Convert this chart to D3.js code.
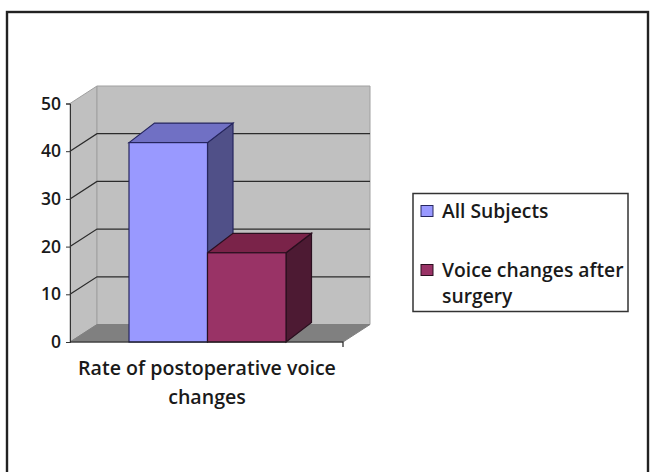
<!DOCTYPE html>
<html><head><meta charset="utf-8">
<script src="https://cdn.jsdelivr.net/npm/d3@7"></script>
<style>html,body{margin:0;padding:0;background:#fff}svg{display:block}text{font-family:"Open Sans",sans-serif;fill:#1a1a1a;font-weight:600}</style>
</head><body><svg id="c" width="654" height="472"></svg>
<script>
const categories = ["All Subjects", "Voice changes after surgery"];
const values = [41.8, 18.7];
const yTicks = [0, 10, 20, 30, 40, 50];
const xTitleLines = ["Rate of postoperative voice", "changes"];
const legendLines = [["All Subjects"], ["Voice changes after", "surgery"]];
const frontCol = ["#9999ff", "#993366"], topCol = ["#7070c4", "#7a2349"], sideCol = ["#505088", "#4d1a33"];

const svg = d3.select("#c");
svg.append("rect").attr("x",7).attr("y",12).attr("width",641).attr("height",470).attr("fill","#fff").attr("stroke","#222").attr("stroke-width",2.4);

const y = d3.scaleLinear().domain([0,50]).range([342,103.5]);
const x = d3.scaleBand().domain(categories).range([129,286]).paddingInner(0);
const xl = 70, xr = 343, wdx = 27, wdy = 17.5, bdx = 25.5, bdy = 19.5;
const poly = (pts,f,s,sw=1)=>svg.append("polygon").attr("points",pts.map(p=>p.join(",")).join(" ")).attr("fill",f).attr("stroke",s).attr("stroke-width",sw);

// walls and floor
poly([[xl,y(0)],[xl+wdx,y(0)-wdy],[xl+wdx,y(50)-wdy],[xl,y(50)]],"#c0c0c0","#a0a0a0");
poly([[xl+wdx,y(0)-wdy],[xr+wdx,y(0)-wdy],[xr+wdx,y(50)-wdy],[xl+wdx,y(50)-wdy]],"#c0c0c0","#a0a0a0");
poly([[xl,y(0)],[xl+wdx,y(0)-wdy],[xr+wdx,y(0)-wdy],[xr,y(0)]],"#808080","#808080");

// gridlines
const gridT = yTicks.filter(t=>t>0&&t<50);
svg.selectAll(".g").data(gridT).enter().append("path").attr("fill","none").attr("stroke","#2b2b2b").attr("stroke-width",1.2)
  .attr("d",t=>`M${xl},${y(t)}L${xl+wdx},${y(t)-wdy}L${xr+wdx},${y(t)-wdy}`);

// bars
categories.forEach((c,i)=>{
  const x0=x(c), x1=x0+x.bandwidth(), yt=y(values[i]), yb=y(0);
  const stroke=i?"#2a0f1f":"#26265e";
  poly([[x1,yt],[x1+bdx,yt-bdy],[x1+bdx,yb-bdy],[x1,yb]],sideCol[i],stroke,1.2);
  poly([[x0,yt],[x0+bdx,yt-bdy],[x1+bdx,yt-bdy],[x1,yt]],topCol[i],stroke,1.2);
});
categories.forEach((c,i)=>{
  const stroke=i?"#2a0f1f":"#26265e";
  svg.append("rect").attr("x",x(c)).attr("y",y(values[i])).attr("width",x.bandwidth()).attr("height",y(0)-y(values[i])).attr("fill",frontCol[i]).attr("stroke",stroke).attr("stroke-width",1.2);
});

// axes
const yAxis = d3.axisLeft(y).tickValues(yTicks).tickSize(4).tickPadding(5);
const ga = svg.append("g").attr("transform",`translate(${xl},0)`).call(yAxis);
ga.select(".domain").attr("stroke","#333");
ga.selectAll("line").attr("stroke","#333");
ga.selectAll("text").attr("font-size",17.5).style("font-family",'"Open Sans",sans-serif').style("fill","#1a1a1a");
svg.append("path").attr("d",`M${xl},${y(0)}H${xr}V${y(0)+5}`).attr("fill","none").attr("stroke","#222").attr("stroke-width",1.2);

// x title
svg.append("g").selectAll("text").data(xTitleLines).enter().append("text")
  .attr("x",207).attr("y",(d,i)=>375+i*29).attr("text-anchor","middle").attr("font-size",19.6).text(d=>d);

// legend
svg.append("rect").attr("x",413).attr("y",193.5).attr("width",215).attr("height",118).attr("fill","#fff").attr("stroke","#333").attr("stroke-width",1.5);
const legY=[211,270];
categories.forEach((c,i)=>{
  svg.append("rect").attr("x",421).attr("y",legY[i]-5.5).attr("width",12).attr("height",11).attr("fill",frontCol[i]).attr("stroke",i?"#2a0f1f":"#26265e");
  legendLines[i].forEach((l,j)=>svg.append("text").attr("x",442).attr("y",legY[i]+7+j*26).attr("font-size",19.3).text(l));
});
</script></body></html>
